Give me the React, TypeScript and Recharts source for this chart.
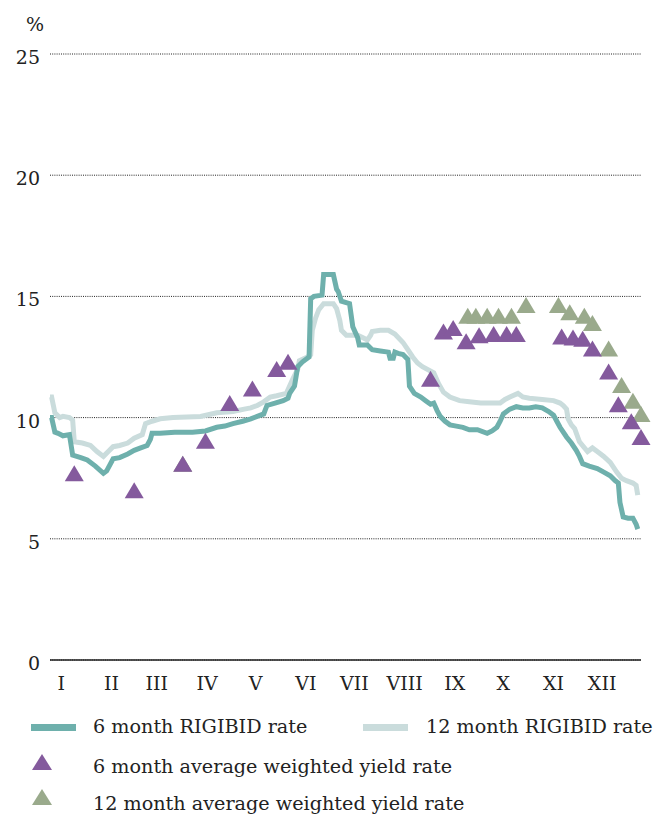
import React from "react";
import {
  CartesianGrid,
  ComposedChart,
  Line,
  Scatter,
  XAxis,
  YAxis,
} from "recharts";

// day of year -> value (%)
const sixMonthDays = [0, 1, 3, 5, 8, 12, 14, 19, 23, 28, 33, 35, 39, 43, 48, 52, 56, 60, 62, 63, 68, 77, 88, 96, 103, 108, 113, 119, 124, 128, 132, 134, 139, 144, 147, 148, 151, 153, 156, 160, 161, 163, 168, 169, 175, 177, 178, 180, 185, 187, 190, 191, 196, 199, 204, 209, 210, 212, 213, 215, 218, 221, 222, 225, 229, 232, 235, 237, 239, 241, 244, 247, 251, 255, 259, 264, 270, 273, 276, 278, 280, 284, 288, 292, 296, 300, 304, 308, 311, 313, 315, 317, 319, 322, 325, 327, 329, 333, 338, 342, 346, 349, 351, 352, 354, 357, 360, 362, 363];
const sixMonthRate = [10.0, 10.0, 9.4, 9.35, 9.25, 9.3, 8.45, 8.35, 8.25, 8.0, 7.7, 7.8, 8.3, 8.35, 8.5, 8.65, 8.75, 8.85, 9.1, 9.35, 9.35, 9.4, 9.4, 9.45, 9.6, 9.65, 9.75, 9.85, 9.95, 10.05, 10.15, 10.5, 10.6, 10.7, 10.8, 11.0, 11.3, 12.1, 12.3, 12.5, 14.9, 15.0, 15.05, 15.9, 15.9, 15.3, 15.2, 14.8, 14.7, 13.75, 13.3, 13.0, 13.0, 12.8, 12.75, 12.7, 12.45, 12.45, 12.7, 12.65, 12.6, 12.4, 11.3, 11.0, 10.85, 10.7, 10.55, 10.6, 10.3, 10.05, 9.85, 9.7, 9.65, 9.6, 9.5, 9.5, 9.35, 9.45, 9.6, 9.85, 10.15, 10.35, 10.45, 10.4, 10.4, 10.45, 10.4, 10.25, 10.1, 9.85, 9.6, 9.4, 9.2, 8.95, 8.65, 8.4, 8.1, 8.0, 7.9, 7.75, 7.6, 7.4, 7.3, 6.5, 5.9, 5.85, 5.85, 5.6, 5.4];

const twelveMonthDays = [0, 1, 3, 6, 8, 12, 14, 15, 20, 25, 29, 33, 36, 39, 43, 48, 52, 57, 59, 63, 68, 76, 93, 103, 113, 120, 124, 128, 132, 136, 140, 146, 148, 150, 153, 154, 159, 161, 162, 164, 166, 169, 175, 177, 179, 180, 183, 190, 193, 196, 198, 199, 204, 209, 213, 218, 221, 224, 227, 230, 237, 240, 243, 247, 253, 259, 266, 272, 278, 281, 284, 289, 292, 296, 304, 311, 315, 317, 319, 320, 322, 324, 327, 332, 335, 338, 342, 346, 350, 353, 356, 360, 362, 363];
const twelveMonthRate = [10.85, 10.85, 10.2, 10.0, 10.05, 10.0, 9.9, 9.0, 8.95, 8.85, 8.6, 8.4, 8.6, 8.8, 8.85, 8.95, 9.15, 9.3, 9.75, 9.85, 9.95, 10.0, 10.05, 10.2, 10.25, 10.35, 10.4, 10.5, 10.65, 10.85, 10.9, 11.0, 11.3, 11.6, 12.0, 12.35, 12.5, 12.6, 13.6, 14.1, 14.45, 14.7, 14.7, 14.5, 14.0, 13.6, 13.4, 13.4, 13.3, 13.2, 13.4, 13.55, 13.6, 13.6, 13.45, 13.1, 12.8, 12.5, 12.25, 12.1, 11.85, 11.4, 11.05, 10.85, 10.7, 10.65, 10.6, 10.6, 10.6, 10.75, 10.85, 11.0, 10.85, 10.8, 10.75, 10.7, 10.6, 10.5, 10.35, 9.95, 9.7, 9.55, 9.0, 8.6, 8.75, 8.6, 8.4, 8.15, 7.75, 7.5, 7.4, 7.3, 7.2, 6.8];

const sixYieldDays = [15, 52, 82, 96, 111, 125, 140, 147, 235, 243, 249, 257, 265, 274, 282, 288, 316, 323, 329, 335, 345, 351, 359, 365];
const sixYield = [7.7, 7.0, 8.1, 9.05, 10.6, 11.2, 12.0, 12.3, 11.6, 13.55, 13.7, 13.15, 13.4, 13.45, 13.45, 13.45, 13.35, 13.3, 13.25, 12.85, 11.9, 10.55, 9.85, 9.2];

const twelveYieldDays = [82, 258, 263, 270, 277, 285, 294, 314, 321, 330, 335, 345, 353, 360, 365];
const twelveYield = [8.1, 14.2, 14.2, 14.2, 14.2, 14.2, 14.65, 14.65, 14.35, 14.2, 13.9, 12.85, 11.35, 10.7, 10.15];

const monthTicks = [7, 38, 66, 97, 127, 158, 188, 219, 250, 280, 311, 341];
const monthLabels = ["I", "II", "III", "IV", "V", "VI", "VII", "VIII", "IX", "X", "XI", "XII"];
const yTicks = [0, 5, 10, 15, 20, 25];

const FONT = "'DejaVu Serif', serif";
const TEAL = "#6eb0ac";
const LIGHT = "#cadcdc";
const PURPLE = "#845a9d";
const GREEN = "#9aaa8c";

const zip = (xs: number[], ys: number[]) => xs.map((d, i) => ({ d, v: ys[i] }));

const sixData = zip(sixMonthDays, sixMonthRate);
const twelveData = zip(twelveMonthDays, twelveMonthRate);
const sixYieldData = zip(sixYieldDays, sixYield);
const twelveYieldData = zip(twelveYieldDays, twelveYield);

const triangle = (color: string) => (props: any) => {
  const { cx, cy } = props;
  return (
    <polygon
      points={`${cx},${cy - 8} ${cx - 9.5},${cy + 8} ${cx + 9.5},${cy + 8}`}
      fill={color}
    />
  );
};

const YTick = (props: any) => {
  const { x, y, payload } = props;
  return (
    <text x={x} y={y + 10} textAnchor="end" fontFamily={FONT} fontSize={19} fill="#222">
      {payload.value}
    </text>
  );
};

const XTick = (props: any) => {
  const { x, y, payload } = props;
  const i = monthTicks.indexOf(payload.value);
  return (
    <text x={x} y={y + 22} textAnchor="middle" fontFamily={FONT} fontSize={19} fill="#222">
      {monthLabels[i]}
    </text>
  );
};

const LegendTri = ({ color }: { color: string }) => (
  <svg width={22} height={18} style={{ position: "absolute", left: 31, top: 0 }}>
    <polygon points="11,1 1,17 21,17" fill={color} />
  </svg>
);

export default function App() {
  const text: React.CSSProperties = {
    position: "absolute",
    fontFamily: FONT,
    fontSize: 19.2,
    color: "#222",
    whiteSpace: "nowrap",
    lineHeight: "24px",
  };
  return (
    <div style={{ position: "absolute", left: 0, top: 0, width: 659, height: 815, background: "#fff" }}>
      <div style={{ ...text, left: 26, top: 12, fontSize: 19 }}>%</div>
      <ComposedChart
        width={659}
        height={700}
        margin={{ top: 54, right: 18, bottom: 0, left: 0 }}
      >
        <CartesianGrid
          vertical={false}
          stroke="#222"
          strokeDasharray="1 1.2"
        />
        <XAxis
          type="number"
          dataKey="d"
          domain={[0, 365]}
          ticks={monthTicks}
          tick={<XTick />}
          tickLine={false}
          axisLine={{ stroke: "#222", strokeWidth: 1.5 }}
          height={40}
        />
        <YAxis
          type="number"
          dataKey="v"
          domain={[0, 25]}
          ticks={yTicks}
          tick={<YTick />}
          tickLine={false}
          axisLine={false}
          width={50}
          tickMargin={4}
        />
        <Line
          data={twelveData}
          dataKey="v"
          type="linear"
          stroke={LIGHT}
          strokeWidth={5}
          dot={false}
          isAnimationActive={false}
        />
        <Line
          data={sixData}
          dataKey="v"
          type="linear"
          stroke={TEAL}
          strokeWidth={5}
          dot={false}
          isAnimationActive={false}
        />
        <Scatter
          data={twelveYieldData}
          dataKey="v"
          shape={triangle(GREEN)}
          isAnimationActive={false}
        />
        <Scatter
          data={sixYieldData}
          dataKey="v"
          shape={triangle(PURPLE)}
          isAnimationActive={false}
        />
      </ComposedChart>

      <div style={{ position: "absolute", left: 31, top: 724, width: 45, height: 7, background: TEAL }} />
      <div style={{ ...text, left: 93, top: 715 }}>6 month RIGIBID rate</div>
      <div style={{ position: "absolute", left: 363, top: 724, width: 45, height: 7, background: LIGHT }} />
      <div style={{ ...text, left: 426, top: 715 }}>12 month RIGIBID rate</div>

      <div style={{ position: "absolute", left: 0, top: 753, width: 60, height: 18 }}>
        <LegendTri color={PURPLE} />
      </div>
      <div style={{ ...text, left: 93, top: 755 }}>6 month average weighted yield rate</div>
      <div style={{ position: "absolute", left: 0, top: 788, width: 60, height: 18 }}>
        <LegendTri color={GREEN} />
      </div>
      <div style={{ ...text, left: 93, top: 792 }}>12 month average weighted yield rate</div>
    </div>
  );
}
